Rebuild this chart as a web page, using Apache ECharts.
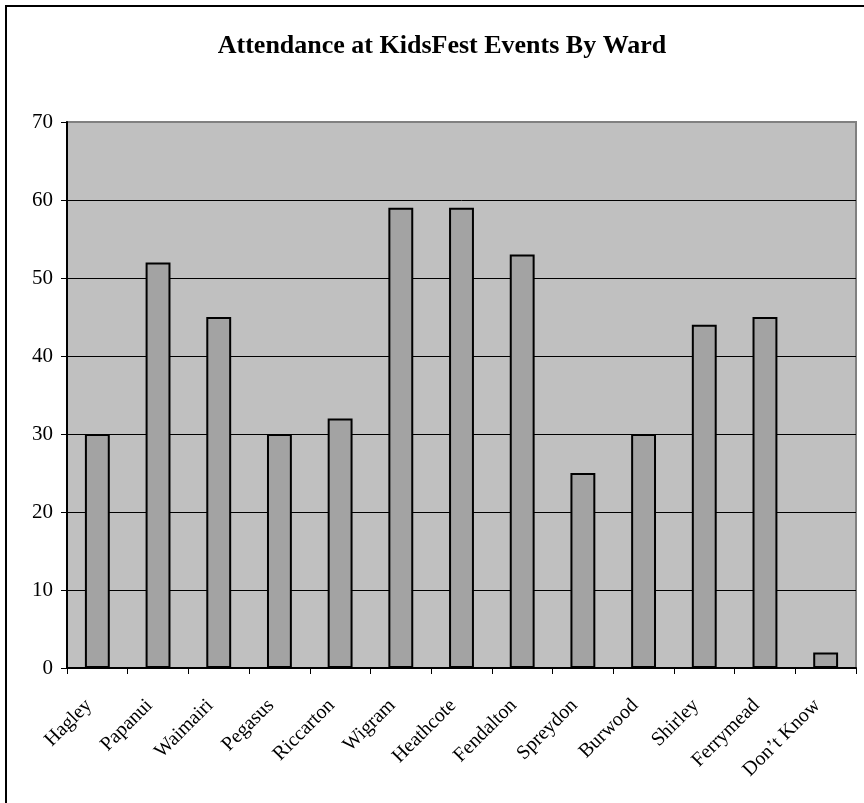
<!DOCTYPE html>
<html>
<head>
<meta charset="utf-8">
<script src="https://cdn.jsdelivr.net/npm/echarts@6/dist/echarts.min.js"></script>
<style>
  html, body { margin: 0; padding: 0; background: #fff; }
  #chart { width: 864px; height: 803px; }
</style>
</head>
<body>
<div id="chart"></div>
<script>
// Wards and attendance counts
const wards = ['Hagley', 'Papanui', 'Waimairi', 'Pegasus', 'Riccarton', 'Wigram', 'Heathcote',
  'Fendalton', 'Spreydon', 'Burwood', 'Shirley', 'Ferrymead', 'Don\u2019t Know'];
const attendance = [30, 52, 45, 30, 32, 59, 59, 53, 25, 30, 44, 45, 2];
const yMin = 0, yMax = 70, yStep = 10;

const serif = '"Liberation Serif", "Times New Roman", serif';
const chart = echarts.init(document.getElementById('chart'), null, { renderer: 'canvas' });

chart.setOption({
  animation: false,
  backgroundColor: '#fff',
  title: {
    text: 'Attendance at KidsFest Events By Ward',
    left: 437,
    top: 28,
    textAlign: 'center',
    textStyle: { fontFamily: serif, fontSize: 26, fontWeight: 'bold', color: '#000' }
  },
  graphic: [{
    type: 'rect',
    shape: { x: 6, y: 6, width: 1000, height: 1000 },
    style: { fill: 'none', stroke: '#000', lineWidth: 2 },
    silent: true
  }],
  grid: {
    left: 67, right: 8, top: 122, bottom: 135,
    show: true,
    backgroundColor: '#C0C0C0',
    borderColor: '#808080',
    borderWidth: 2
  },
  xAxis: {
    type: 'category',
    data: wards,
    axisLine: { show: true, lineStyle: { color: '#000', width: 2 } },
    axisTick: { show: true, length: 6, lineStyle: { color: '#000', width: 1 } },
    axisLabel: {
      rotate: 45,
      margin: 26,
      padding: [0, 12, 0, 0],
      interval: 0,
      fontFamily: serif,
      fontSize: 20,
      color: '#000'
    },
    splitLine: { show: false }
  },
  yAxis: {
    type: 'value',
    min: yMin, max: yMax, interval: yStep,
    axisLine: { show: true, lineStyle: { color: '#000', width: 2 } },
    axisTick: { show: true, length: 6, lineStyle: { color: '#000', width: 1 } },
    axisLabel: { fontFamily: serif, fontSize: 21, color: '#000', margin: 14 },
    splitLine: { show: true, showMaxLine: false, lineStyle: { color: '#000', width: 1 } }
  },
  series: [{
    type: 'bar',
    data: attendance,
    barCategoryGap: '59%',
    itemStyle: { color: '#A3A3A3', borderColor: '#000', borderWidth: 2 }
  }]
});
</script>
</body>
</html>
